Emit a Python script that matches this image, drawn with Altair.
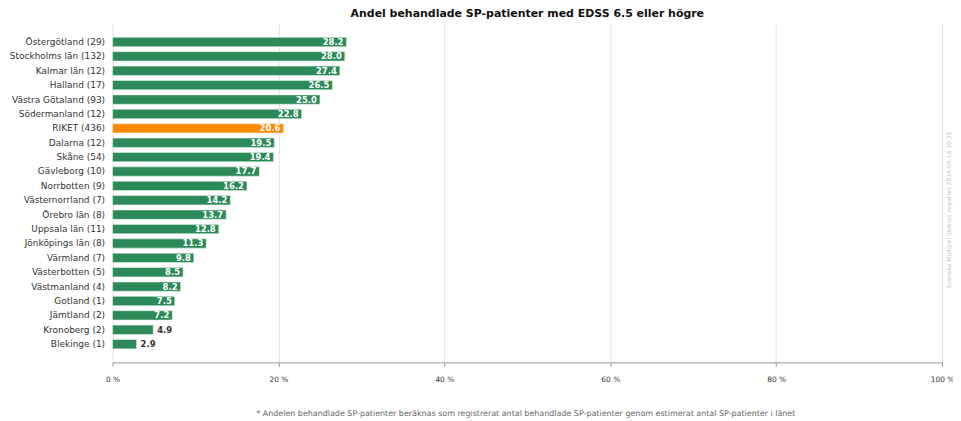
import altair as alt
import pandas as pd

regions = ["Östergötland (29)", "Stockholms län (132)", "Kalmar län (12)", "Halland (17)",
           "Västra Götaland (93)", "Södermanland (12)", "RIKET (436)", "Dalarna (12)",
           "Skåne (54)", "Gävleborg (10)", "Norrbotten (9)", "Västernorrland (7)",
           "Örebro län (8)", "Uppsala län (11)", "Jönköpings län (8)", "Värmland (7)",
           "Västerbotten (5)", "Västmanland (4)", "Gotland (1)", "Jämtland (2)",
           "Kronoberg (2)", "Blekinge (1)"]
values = [28.2, 28.0, 27.4, 26.5, 25.0, 22.8, 20.6, 19.5, 19.4, 17.7, 16.2, 14.2,
          13.7, 12.8, 11.3, 9.8, 8.5, 8.2, 7.5, 7.2, 4.9, 2.9]
highlight = "RIKET (436)"

title_text = "Andel behandlade SP-patienter med EDSS 6.5 eller högre"
footnote = "* Andelen behandlade SP-patienter beräknas som registrerat antal behandlade SP-patienter genom estimerat antal SP-patienter i länet"
source = "Svenska Multipel Skleros registret 2014-04-16 10:39"

df = pd.DataFrame({"region": regions, "value": values})
df["label"] = df["value"].map(lambda v: f"{v:.1f}")
df["kind"] = ["riket" if r == highlight else "lan" for r in regions]

W, H = 833, 340

y_enc = alt.Y("region:N", sort=regions, title=None,
              scale=alt.Scale(paddingInner=0.35, paddingOuter=0.94),
              axis=alt.Axis(domain=False, ticks=False, labelFontSize=9,
                            labelColor="#333333", labelPadding=8,
                            labelFont="DejaVu Sans", grid=False))
x_enc = alt.X("value:Q", title=None,
              scale=alt.Scale(domain=[0, 100], nice=False),
              axis=alt.Axis(values=[0, 20, 40, 60, 80, 100],
                            labelExpr="datum.value + ' %'",
                            labelFontSize=7.5, labelColor="#333333",
                            labelFont="DejaVu Sans", labelPadding=9,
                            domainColor="#999999", tickColor="#999999",
                            tickSize=4, grid=True, gridColor="#e3e3e3",
                            labelFlush=False))

base = alt.Chart(df)

bars = base.mark_bar(stroke="#e6f0ea", strokeWidth=0.6).encode(
    x=x_enc, y=y_enc,
    color=alt.Color("kind:N", scale=alt.Scale(domain=["lan", "riket"],
                                              range=["#2b8a57", "#ff8a00"]),
                    legend=None),
)

inside = base.transform_filter("datum.value >= 6").mark_text(
    align="right", baseline="middle", dx=-3, color="white",
    fontWeight="bold", fontSize=8.5, font="DejaVu Sans").encode(
    x="value:Q", y=alt.Y("region:N", sort=regions), text="label:N")

outside = base.transform_filter("datum.value < 6").mark_text(
    align="left", baseline="middle", dx=4, color="#333333",
    fontWeight="bold", fontSize=8.5, font="DejaVu Sans").encode(
    x="value:Q", y=alt.Y("region:N", sort=regions), text="label:N")

foot = alt.Chart(pd.DataFrame({"t": [footnote]})).mark_text(
    fontSize=8, color="#666666", font="DejaVu Sans").encode(
    text="t:N", x=alt.value(415), y=alt.value(392))

src = alt.Chart(pd.DataFrame({"t": [source]})).mark_text(
    fontSize=6, color="#c4c4c4", angle=270, font="DejaVu Sans").encode(
    text="t:N", x=alt.value(840), y=alt.value(187))

chart = alt.layer(bars, inside, outside, foot, src).properties(
    width=W, height=H,
    title=alt.TitleParams(title_text, fontSize=11, fontWeight="bold",
                          font="DejaVu Sans", color="#111111",
                          anchor="middle", offset=5),
    autosize=alt.AutoSizeParams(type="none"),
    padding={"left": 105, "top": 15, "right": 11, "bottom": 58},
).configure_view(stroke=None).configure_axis(labelFontWeight="normal")

chart.save("out.html", embed_options={"renderer": "svg", "actions": False})
